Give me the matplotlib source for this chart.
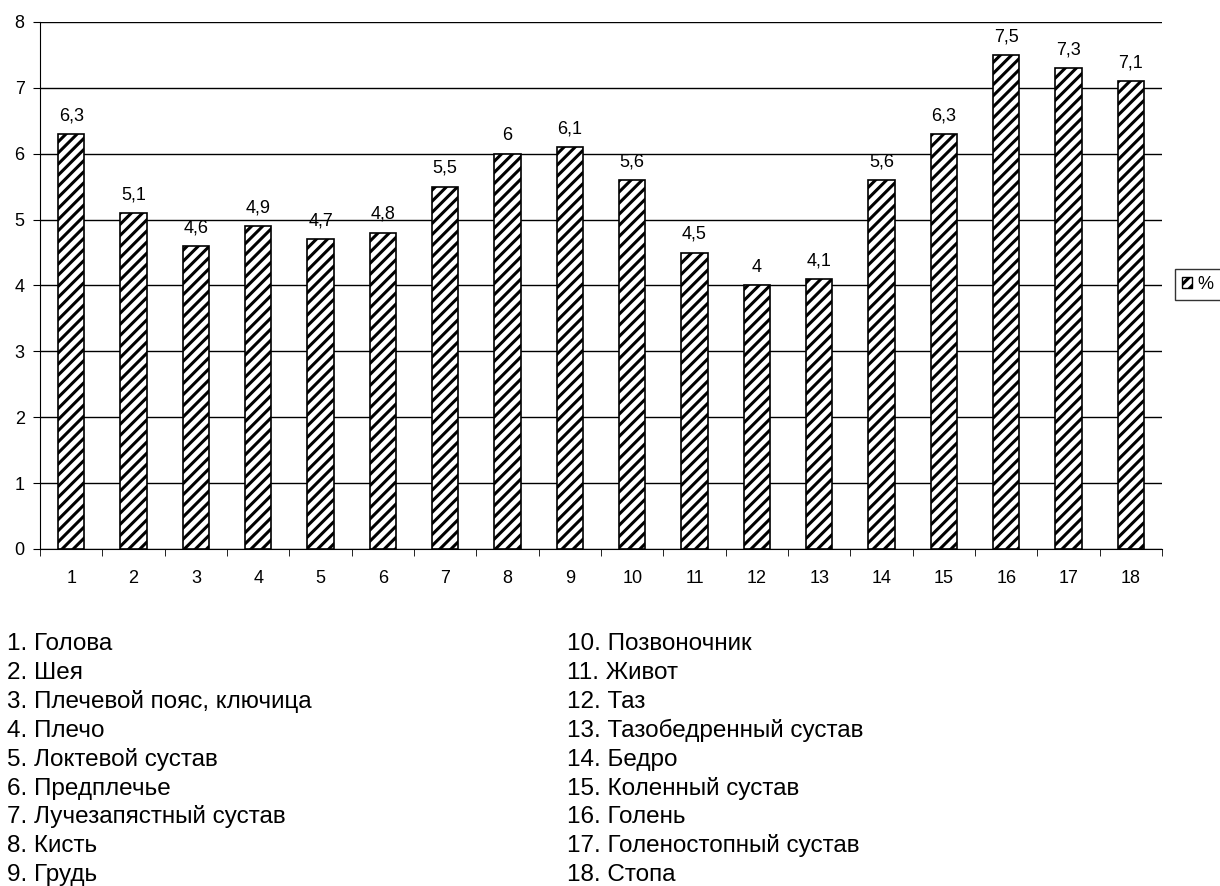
import matplotlib.pyplot as plt
import matplotlib.patches as mpatches
import numpy as np

plt.rcParams['font.family'] = ['Liberation Sans', 'DejaVu Sans']
plt.rcParams['hatch.linewidth'] = 2.2

numbers = list(range(1, 19))
values = [6.3, 5.1, 4.6, 4.9, 4.7, 4.8, 5.5, 6.0, 6.1,
          5.6, 4.5, 4.0, 4.1, 5.6, 6.3, 7.5, 7.3, 7.1]
value_labels = ["6,3", "5,1", "4,6", "4,9", "4,7", "4,8", "5,5", "6", "6,1",
                "5,6", "4,5", "4", "4,1", "5,6", "6,3", "7,5", "7,3", "7,1"]
parts = ["Голова", "Шея", "Плечевой пояс, ключица", "Плечо", "Локтевой сустав",
         "Предплечье", "Лучезапястный сустав", "Кисть", "Грудь",
         "Позвоночник", "Живот", "Таз", "Тазобедренный сустав", "Бедро",
         "Коленный сустав", "Голень", "Голеностопный сустав", "Стопа"]

fig = plt.figure(figsize=(12.2, 8.86), dpi=100)
ax = fig.add_axes([0.0328, 0.3804, 0.9197, 0.5948])

x = np.arange(len(values))
ax.bar(x, values, 0.42, color='white', edgecolor='black',
       hatch='///', linewidth=1.2, zorder=3)

for xi, v, lab in zip(x, values, value_labels):
    ax.text(xi, v + 0.15, lab, ha='center', va='bottom', fontsize=13)

ax.set_xlim(-0.5, len(values) - 0.5)
ax.set_ylim(0, 8)
ax.set_yticks(range(0, 9))
ax.yaxis.grid(True, color='black', linewidth=1.0, zorder=0)
ax.tick_params(axis='y', direction='out', length=5, labelsize=13, pad=6)

ax.set_xticks(x)
ax.set_xticklabels([str(n) for n in numbers])
ax.set_xticks(np.arange(-0.5, len(values), 1.0), minor=True)
ax.tick_params(axis='x', which='major', length=0, labelsize=13, pad=15)
ax.tick_params(axis='x', which='minor', direction='out', length=5)

for side in ['top', 'right']:
    ax.spines[side].set_visible(False)

legend_patch = mpatches.Patch(facecolor='white', edgecolor='black', hatch='///',
                              linewidth=1.0, label='%')
leg = fig.legend(handles=[legend_patch], loc='center left', bbox_to_anchor=(0.963, 0.679),
                 frameon=True, fancybox=False, edgecolor='black', fontsize=13,
                 handlelength=0.55, handleheight=0.55, handletextpad=0.3,
                 borderpad=0.4, borderaxespad=0)
leg.get_frame().set_linewidth(1.0)

# numbered list of body parts under the chart, two columns of nine
for i, name in enumerate(parts):
    col = i // 9
    row = i % 9
    fig.text(0.0057 + col * 0.459, 1 - (650 + row * 28.9) / 886, f"{i + 1}. {name}",
             fontsize=17.5, ha='left', va='baseline')

fig.savefig('out.png', dpi=100)
